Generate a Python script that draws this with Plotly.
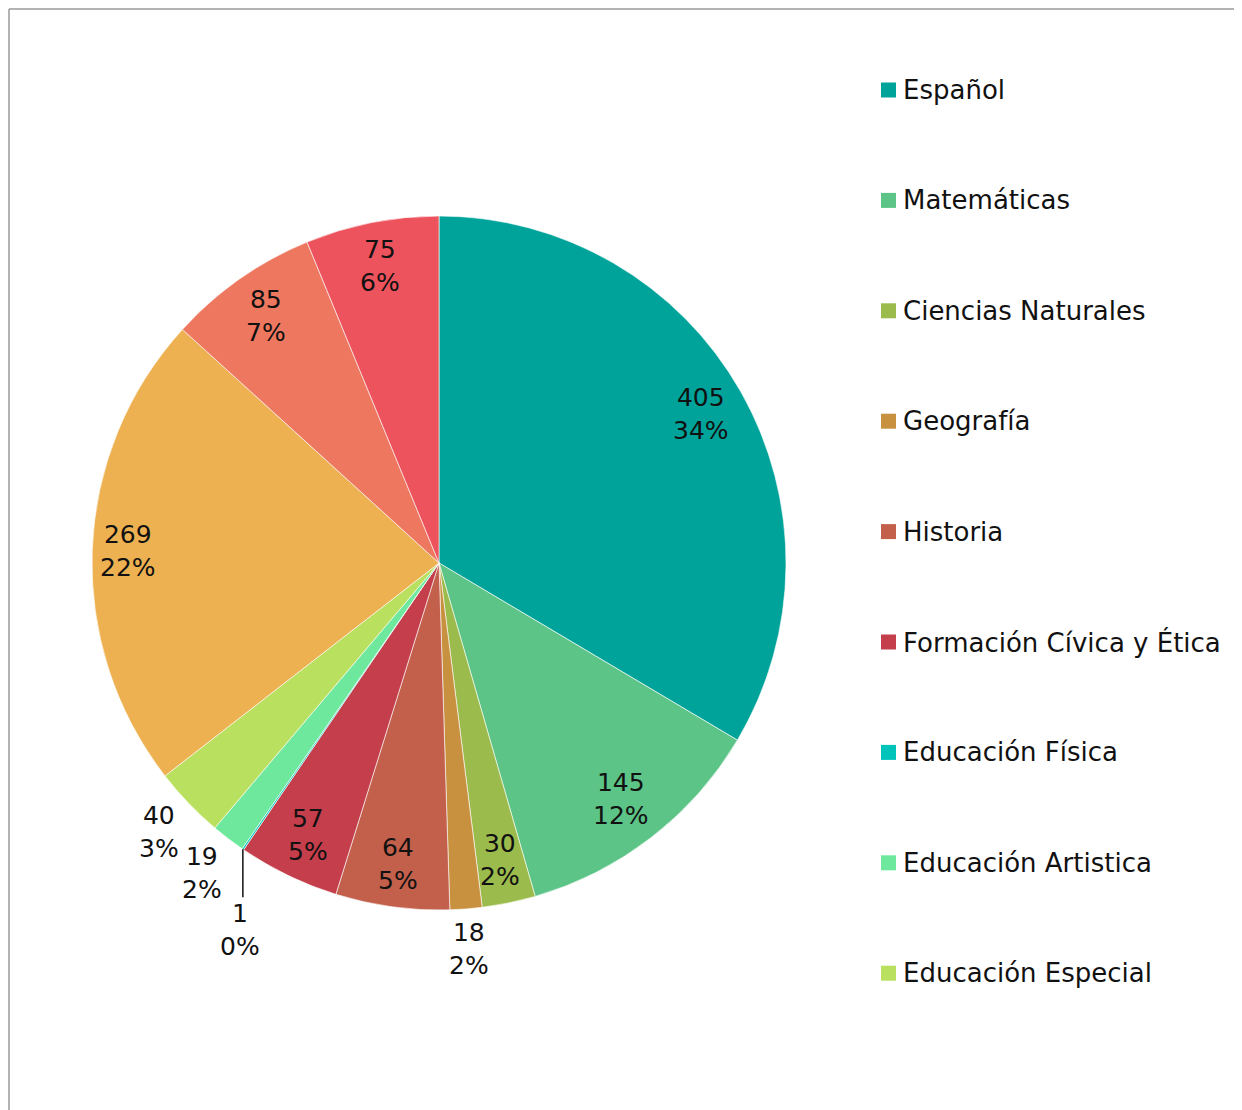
import math
import plotly.graph_objects as go

W, H = 1242, 1110
OFF = 8  # page body margin in the browser

categories = ["Español", "Matemáticas", "Ciencias Naturales", "Geografía", "Historia",
              "Formación Cívica y Ética", "Educación Física", "Educación Artistica",
              "Educación Especial", "Categoría 10", "Categoría 11", "Categoría 12"]
values = [405, 145, 30, 18, 64, 57, 1, 19, 40, 269, 85, 75]
colors = ["#00A39A", "#5BC486", "#9BBB4C", "#C8913F", "#C3604C", "#C43E4B",
          "#00C3B9", "#6DE89D", "#B9E05F", "#EDB152", "#EE775F", "#EC535D"]
legend_shown = 9
label_outside = [False, False, False, True, False, False,
                 True, True, True, False, False, False]

FONT = "DejaVu Sans"
FS_LEG = 26
FS_LAB = 25
TXT = "#111111"

# pie geometry (screen px)
CX, CY, R = 439, 563, 347
D_IN = R - 8     # far corner of inside labels
D_OUT = R + 6    # near corner of outside labels
DIGIT, PCTW, HALF_H = 14, 21, 33


def px_x(x):
    return (x - OFF) / W


def px_y(y):
    return 1 - (y - OFF) / H


# percentages rounded so they sum to 100 (largest remainder)
total = sum(values)
raw = [v * 100 / total for v in values]
fl = [math.floor(r) for r in raw]
rest = 100 - sum(fl)
order = sorted(range(len(raw)), key=lambda i: raw[i] - fl[i], reverse=True)
pct = fl[:]
for i in order[:rest]:
    pct[i] += 1

fig = go.Figure()
fig.add_trace(go.Pie(
    labels=categories, values=values, sort=False, direction="clockwise", rotation=0,
    marker=dict(colors=colors, line=dict(color="white", width=0.6)),
    textinfo="none",
    domain=dict(x=[px_x(CX - R), px_x(CX + R)], y=[px_y(CY + R), px_y(CY - R)]),
    showlegend=False, hoverinfo="label+value+percent",
))

shapes = [
    dict(type="line", xref="paper", yref="paper", x0=px_x(9), x1=px_x(9), y0=0, y1=px_y(9),
         line=dict(color="#9a9a9a", width=1.5)),
    dict(type="line", xref="paper", yref="paper", x0=px_x(9), x1=1, y0=px_y(9), y1=px_y(9),
         line=dict(color="#9a9a9a", width=1.5)),
]
annotations = []

# data labels
cum = 0
for i, v in enumerate(values):
    mid = (cum + v / 2) / total * 2 * math.pi
    cum += v
    ux, uy = math.sin(mid), -math.cos(mid)
    text = f"{v}<br>{pct[i]}%"
    hw = max(len(str(v)) * DIGIT, len(str(pct[i])) * DIGIT + PCTW) / 2
    dx, dy = math.copysign(hw, ux), math.copysign(HALF_H, uy)
    ud = ux * dx + uy * dy
    dd = dx * dx + dy * dy
    if v / total < 0.005:
        ex, ey = CX + R * ux, CY + R * uy
        shapes.append(dict(type="line", xref="paper", yref="paper",
                           x0=px_x(ex), x1=px_x(ex), y0=px_y(ey), y1=px_y(ey + 48),
                           line=dict(color="#111111", width=1.5)))
        lx, ly = ex - 3, ey + 81
    elif label_outside[i]:
        r = ud + math.sqrt(ud * ud - dd + D_OUT ** 2)
        lx, ly = CX + r * ux, CY + r * uy
    else:
        r = -ud + math.sqrt(ud * ud - dd + D_IN ** 2)
        lx, ly = CX + r * ux, CY + r * uy
    annotations.append(dict(xref="paper", yref="paper", x=px_x(lx), y=px_y(ly),
                            xanchor="center", yanchor="middle", showarrow=False,
                            text=text, font=dict(family=FONT, size=FS_LAB, color=TXT)))

# legend
for i in range(legend_shown):
    yc = 90 + i * 110.4
    shapes.append(dict(type="rect", xref="paper", yref="paper",
                       x0=px_x(881), x1=px_x(896), y0=px_y(yc + 7.5), y1=px_y(yc - 7.5),
                       fillcolor=colors[i], line=dict(width=0)))
    annotations.append(dict(xref="paper", yref="paper", x=px_x(901), y=px_y(yc),
                            xanchor="left", yanchor="middle", showarrow=False,
                            text=categories[i], font=dict(family=FONT, size=FS_LEG, color=TXT)))

fig.update_layout(
    width=W, height=H, margin=dict(l=0, r=0, t=0, b=0),
    paper_bgcolor="white", plot_bgcolor="white",
    shapes=shapes, annotations=annotations,
)
fig.write_html("out.html")
